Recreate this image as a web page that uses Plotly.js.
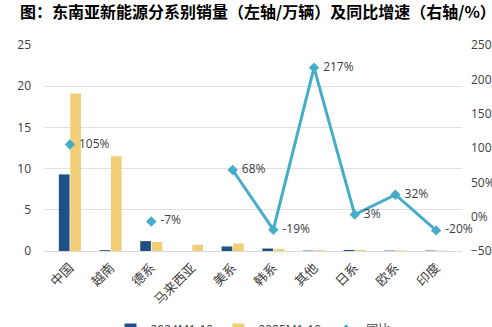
<!DOCTYPE html>
<html><head><meta charset="utf-8">
<script src="https://cdn.plot.ly/plotly-3.0.1.min.js"></script>
<style>html,body{margin:0;padding:0;background:#fff}#chart{width:492px;height:327px}</style>
</head><body><div id="chart"></div>
<script>
const categories = ["中国","越南","德系","马来西亚","美系","韩系","其他","日系","欧系","印度"];
const sales2024 = [9.3, 0.1, 1.2, 0, 0.55, 0.3, 0.05, 0.12, 0.05, 0.05];
const sales2025 = [19.1, 11.5, 1.1, 0.75, 0.92, 0.24, 0.1, 0.12, 0.07, 0.04];
const yoy = [105, null, -7, null, 68, -19, 217, 3, 32, -20];
const yoyLabels = yoy.map(v => v === null ? "" : "\u00a0" + v + "%");

const font = "Open Sans, Noto Sans CJK SC, sans-serif";
const data = [
  {type:"bar", name:"2024M1-10", x:categories, y:sales2024, marker:{color:"#1f5086"}, yaxis:"y"},
  {type:"bar", name:"2025M1-10", x:categories, y:sales2025, marker:{color:"#f0cf78"}, yaxis:"y"},
  {type:"scatter", mode:"lines+markers+text", name:"同比", x:categories, y:yoy, yaxis:"y2",
   text:yoyLabels, textposition:"middle right", textfont:{size:12, color:"#404040", family:font},
   line:{color:"#46adc8", width:3}, marker:{symbol:"diamond", size:8, color:"#46adc8"}, connectgaps:false, cliponaxis:false}
];
const layout = {
  width:492, height:327,
  margin:{l:44, r:30, t:45, b:76},
  paper_bgcolor:"#fff", plot_bgcolor:"#fff",
  font:{family:font, size:12, color:"#404040"},
  title:{text:"<b>图：东南亚新能源分系别销量（左轴/万辆）及同比增速（右轴/%）</b>", x:20/492, xanchor:"left", y:1-12/327, yanchor:"middle",
         font:{family:"Noto Sans CJK SC, sans-serif", size:16, color:"#000"}},
  barmode:"group", bargap:0.44, bargroupgap:0.06,
  xaxis:{type:"category", tickangle:-45, automargin:false, tickfont:{size:13, color:"#404040", family:"Noto Sans CJK SC, sans-serif"},
         showline:true, linecolor:"#d9d9d9", ticks:"", showgrid:false, ticklabelstandoff:3},
  yaxis:{range:[0,25], dtick:5, automargin:false, gridcolor:"#e0e0e0", zeroline:false, tickfont:{size:12, color:"#404040"}, ticklabelstandoff:12},
  yaxis2:{range:[-50,250], dtick:50, automargin:false, overlaying:"y", side:"right", showgrid:false, zeroline:false, ticksuffix:"%",
          tickfont:{size:12, color:"#404040"}, ticklabelstandoff:8},
  showlegend:true,
  legend:{orientation:"h", x:0.5, xanchor:"center", yref:"container", y:(327-315)/327, yanchor:"top", font:{size:12, color:"#404040"}}
};
Plotly.newPlot("chart", data, layout, {displayModeBar:false, staticPlot:true});
</script></body></html>
